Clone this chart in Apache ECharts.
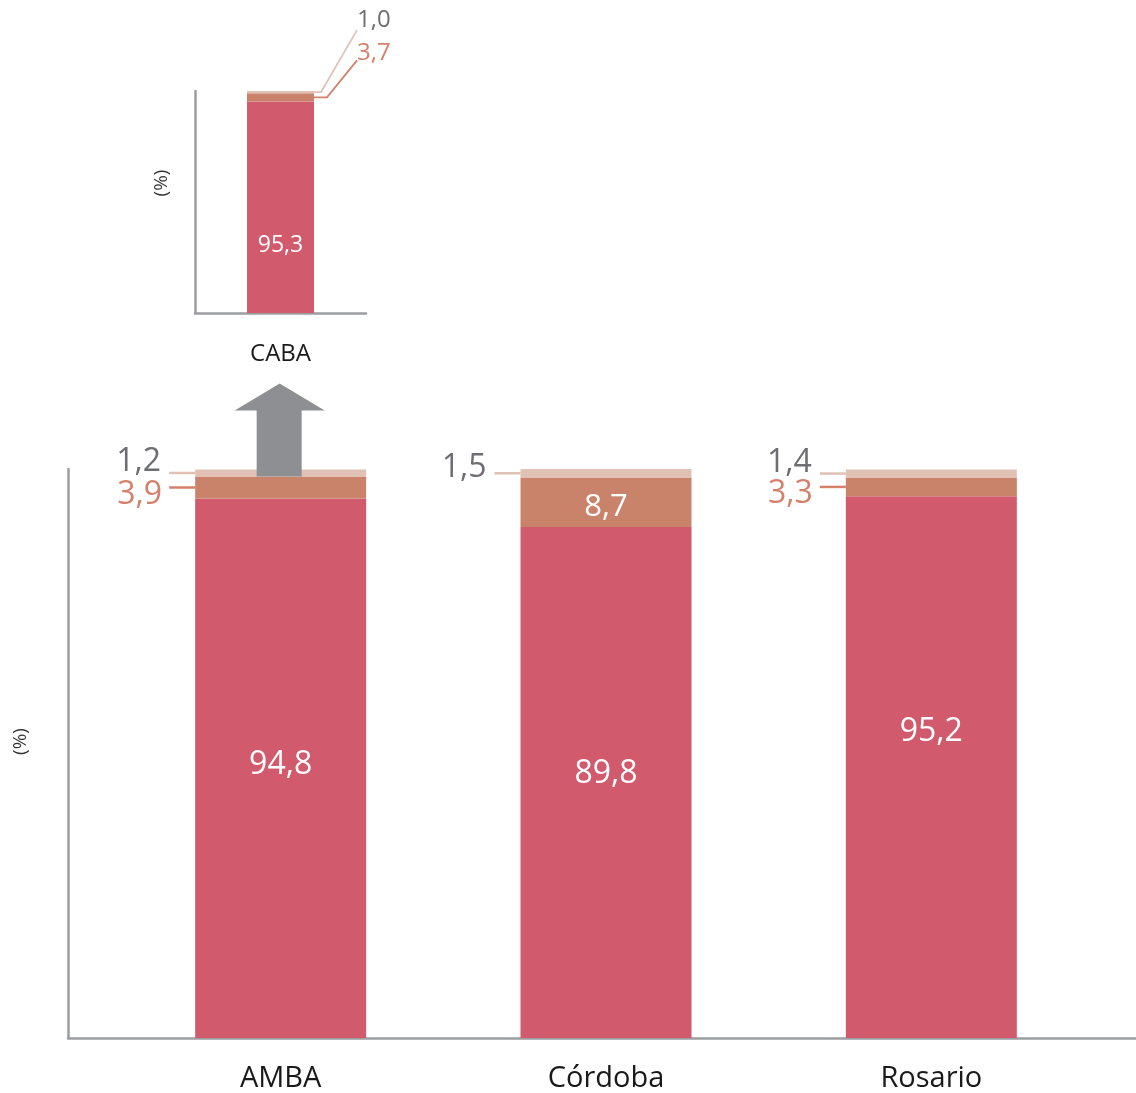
<!DOCTYPE html>
<html><head><meta charset="utf-8">
<script src="https://cdn.jsdelivr.net/npm/echarts@6/dist/echarts.min.js"></script>
<style>html,body{margin:0;padding:0;background:#fff}#c{width:1136px;height:1093px}</style>
</head><body><div id="c"></div>
<script>
// ---- data ----
const mainCategories = ['AMBA', 'Córdoba', 'Rosario'];
const mainBase = [94.8, 89.8, 95.2];
const mainMid = [3.9, 8.7, 3.3];
const mainTop = [1.2, 1.5, 1.4];
const insetCategories = ['CABA'];
const insetBase = [95.3];
const insetMid = [3.7];
const insetTop = [1.0];
const axisName = '(%)';

// ---- styles ----
const RED = '#D15A6C', ORANGE = '#C9836A', LIGHT = '#E0C1B4';
const GRAYTXT = '#6D6E72', ORTXT = '#D4806A', AXIS = '#9C9DA1', ARROW = '#8E8F93';
const FONT = '"Open Sans", "Noto Sans", sans-serif';
const MAIN_BW = 171, INSET_BW = 67;
const baseLabelDy = [-3, -9, -35];
const fmt = v => v.toFixed(1).replace('.', ',');

const chart = echarts.init(document.getElementById('c'), null, {renderer: 'canvas'});

const midInside = v => v >= 5;

const option = {
  animation: false,
  textStyle: {fontFamily: FONT},
  grid: [
    {left: 118, right: 42, top: 469, bottom: 55},
    {left: 68, right: 0, top: 469, bottom: 55},
    {left: 195, width: 171, top: 91, height: 222}
  ],
  xAxis: [
    {gridIndex: 0, type: 'category', data: mainCategories,
     axisLine: {show: false}, axisTick: {show: false},
     axisLabel: {color: '#1a1a1a', fontSize: 29, margin: 26, fontFamily: FONT}},
    {gridIndex: 1, type: 'category', data: [''],
     axisLine: {show: true, lineStyle: {color: AXIS, width: 2.5}}, axisTick: {show: false},
     axisLabel: {show: false}},
    {gridIndex: 2, type: 'category', data: insetCategories,
     axisLine: {show: true, lineStyle: {color: AXIS, width: 2.5}}, axisTick: {show: false},
     axisLabel: {color: '#1a1a1a', fontSize: 24, margin: 29, fontFamily: FONT}}
  ],
  yAxis: [
    {gridIndex: 0, type: 'value', min: 0, max: 100, show: false},
    {gridIndex: 1, type: 'value', min: 0, max: 100,
     axisLine: {show: true, lineStyle: {color: AXIS, width: 2.5}},
     axisTick: {show: false}, axisLabel: {show: false}, splitLine: {show: false},
     name: axisName, nameLocation: 'middle', nameGap: 38,
     nameTextStyle: {color: '#333', fontSize: 19, fontFamily: FONT, padding: [0, 0, 0, 24]}},
    {gridIndex: 2, type: 'value', min: 0, max: 100,
     axisLine: {show: true, lineStyle: {color: AXIS, width: 2.5}},
     axisTick: {show: false}, axisLabel: {show: false}, splitLine: {show: false},
     name: axisName, nameLocation: 'middle', nameGap: 24,
     nameTextStyle: {color: '#333', fontSize: 19, fontFamily: FONT, padding: [0, 0, 0, 38]}}
  ],
  series: [
    {type: 'bar', name: 'base', stack: 'main', xAxisIndex: 0, yAxisIndex: 0, barWidth: MAIN_BW,
     itemStyle: {color: RED},
     data: mainBase.map((v, i) => ({value: v, label: {show: true, position: 'inside', offset: [0, baseLabelDy[i]],
       color: '#fff', fontSize: 32, formatter: () => fmt(v)}}))},
    {type: 'bar', name: 'mid', stack: 'main', xAxisIndex: 0, yAxisIndex: 0, barWidth: MAIN_BW,
     itemStyle: {color: ORANGE},
     data: mainMid.map(v => ({value: v, label: midInside(v)
       ? {show: true, position: 'inside', offset: [0, 5], color: '#fff', fontSize: 31, formatter: () => fmt(v)}
       : {show: true, position: 'left', distance: 33, offset: [0, 7], color: ORTXT, fontSize: 32, formatter: () => fmt(v)}}))},
    {type: 'bar', name: 'top', stack: 'main', xAxisIndex: 0, yAxisIndex: 0, barWidth: MAIN_BW,
     itemStyle: {color: LIGHT},
     data: mainTop.map((v, i) => ({value: v, label: {show: true, position: 'left', distance: 34,
       offset: [0, midInside(mainMid[i]) ? -5 : -11], color: GRAYTXT, fontSize: 32, formatter: () => fmt(v)}}))},
    {type: 'bar', name: 'base', stack: 'inset', xAxisIndex: 2, yAxisIndex: 2, barWidth: INSET_BW,
     itemStyle: {color: RED},
     data: insetBase.map(v => ({value: v, label: {show: true, position: 'inside', offset: [0, 38],
       color: '#fff', fontSize: 23, formatter: () => fmt(v)}}))},
    {type: 'bar', name: 'mid', stack: 'inset', xAxisIndex: 2, yAxisIndex: 2, barWidth: INSET_BW,
     itemStyle: {color: ORANGE},
     data: insetMid.map(v => ({value: v, label: {show: true, position: 'right', distance: 43, offset: [0, -44],
       color: ORTXT, fontSize: 24, formatter: () => fmt(v)}}))},
    {type: 'bar', name: 'top', stack: 'inset', xAxisIndex: 2, yAxisIndex: 2, barWidth: INSET_BW,
     itemStyle: {color: LIGHT},
     data: insetTop.map(v => ({value: v, label: {show: true, position: 'right', distance: 43, offset: [0, -72],
       color: GRAYTXT, fontSize: 24, formatter: () => fmt(v)}}))}
  ]
};
chart.setOption(option);

// ---- leader lines & arrow derived from the library's scales ----
const px = (ax, i, y) => chart.convertToPixel({xAxisIndex: ax, yAxisIndex: ax}, [i, y]);
const g = [];
mainCategories.forEach((c, i) => {
  const b = mainBase[i], m = mainMid[i], t = mainTop[i];
  const pTop = px(0, i, b + m + t / 2);
  const x0 = pTop[0] - MAIN_BW / 2;
  g.push({type: 'line', z: 50, shape: {x1: x0 - 26, y1: pTop[1], x2: x0, y2: pTop[1]},
    style: {stroke: LIGHT, lineWidth: 2.5}});
  if (!midInside(m)) {
    const pMid = px(0, i, b + m / 2);
    g.push({type: 'line', z: 50, shape: {x1: x0 - 26, y1: pMid[1], x2: x0, y2: pMid[1]},
      style: {stroke: ORTXT, lineWidth: 2.5}});
  }
});
// inset leader polylines
{
  const b = insetBase[0], m = insetMid[0], t = insetTop[0];
  const pT = px(2, 0, b + m + t / 2), pM = px(2, 0, b + m / 2);
  const xr = pT[0] + INSET_BW / 2;
  g.push({type: 'polyline', z: 50, shape: {points: [[xr, pT[1]], [xr + 7, pT[1]], [xr + 43, pT[1] - 62]]},
    style: {stroke: LIGHT, lineWidth: 1.8, fill: null}});
  g.push({type: 'polyline', z: 50, shape: {points: [[xr, pM[1]], [xr + 13, pM[1]], [xr + 43, pM[1] - 37]]},
    style: {stroke: ORTXT, lineWidth: 1.8, fill: null}});
}
// arrow on AMBA pointing to inset
{
  const i = 0;
  const p = px(0, i, mainBase[i] + mainMid[i] + mainTop[i]);
  const cx = p[0] - 1, ty = p[1];
  g.push({type: 'polygon', z: 60, shape: {points: [
    [cx, ty - 86], [cx + 45, ty - 59], [cx + 22, ty - 59], [cx + 22, ty + 7],
    [cx - 23, ty + 7], [cx - 23, ty - 59], [cx - 45, ty - 59]]},
    style: {fill: ARROW}});
}
chart.setOption({graphic: g});
</script>
</body></html>
